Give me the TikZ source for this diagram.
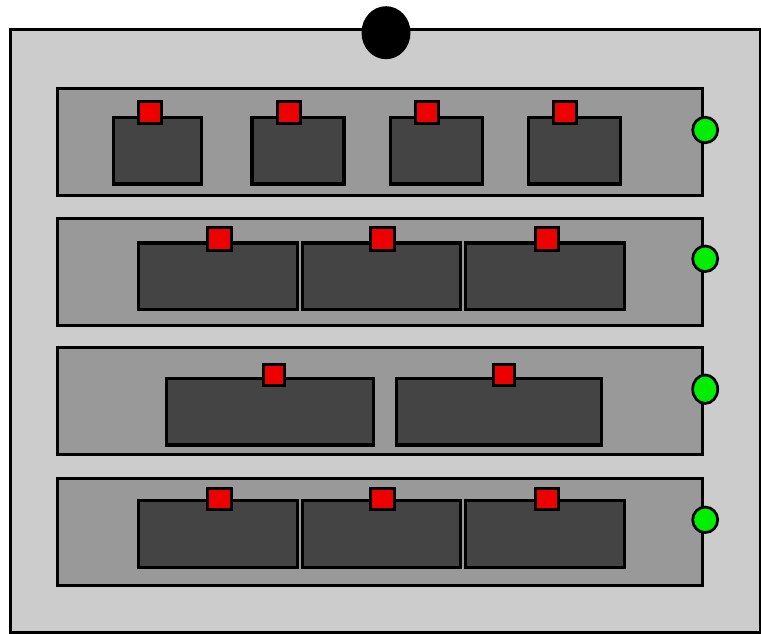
\documentclass[tikz,border=0pt]{standalone}
\usetikzlibrary{shapes.geometric}
\definecolor{casegray}{HTML}{CCCCCC}
\definecolor{shelfgray}{HTML}{999999}
\definecolor{boxgray}{HTML}{444444}
\definecolor{ledred}{HTML}{EE0000}
\definecolor{ledgreen}{HTML}{00EE00}
\tikzset{
  casebox/.style={draw=black,fill=casegray,line width=3pt,rectangle,inner sep=0pt},
  shelfbox/.style={draw=black,fill=shelfgray,line width=3.1pt,rectangle,inner sep=0pt,minimum width=645pt,minimum height=107pt},
  unitbox/.style={draw=black,fill=boxgray,line width=3.1pt,rectangle,inner sep=0pt,minimum height=66.5pt},
  redled/.style={draw=black,fill=ledred,line width=3pt,rectangle,inner sep=0pt,minimum width=23pt,minimum height=22.5pt},
  greenled/.style={draw=black,fill=ledgreen,line width=2.7pt,ellipse,inner sep=0pt,minimum width=25pt,minimum height=25.5pt},
  knob/.style={fill=black,ellipse,inner sep=0pt,minimum width=49pt,minimum height=53pt}
}
\begin{document}
\begin{tikzpicture}[x=1pt,y=-1pt]
\useasboundingbox (0,0) rectangle (761,634);
% case
\node[casebox,minimum width=750pt,minimum height=602pt] (case) at (385.5,331) {};
\node[knob] (knob) at (386,32.7) {};
% shelves
\node[shelfbox] (s1) at (380,142.4) {};
\node[shelfbox] (s2) at (380,271.6) {};
\node[shelfbox] (s3) at (380,400.6) {};
\node[shelfbox] (s4) at (380,532.4) {};
% green leds
\node[greenled] (g1) at (705.2,130) {};
\node[greenled] (g2) at (705.2,258.8) {};
\node[greenled,minimum height=28.5pt] (g3) at (705.2,389.2) {};
\node[greenled] (g4) at (705.2,519.8) {};
% shelf 1 units
\node[unitbox,minimum width=88pt] (u11) at (157.8,150.7) {};
\node[unitbox,minimum width=92pt] (u12) at (298,150.7) {};
\node[unitbox,minimum width=92pt] (u13) at (436.8,150.7) {};
\node[unitbox,minimum width=92pt] (u14) at (574.8,150.7) {};
\node[redled] (r11) at (150,112.7) {};
\node[redled] (r12) at (288.5,112.7) {};
\node[redled] (r13) at (426.7,112.7) {};
\node[redled] (r14) at (564.8,112.7) {};
% shelf 2 units
\node[unitbox,minimum width=158.5pt] (u21) at (217.8,276.2) {};
\node[unitbox,minimum width=158pt] (u22) at (381.4,276.2) {};
\node[unitbox,minimum width=158.5pt] (u23) at (545,276.2) {};
\node[redled,minimum width=23.5pt,minimum height=23pt] (r21) at (219.3,238.8) {};
\node[redled,minimum width=23.5pt,minimum height=23pt] (r22) at (382.5,238.8) {};
\node[redled,minimum width=23.5pt,minimum height=23pt] (r23) at (546.8,238.8) {};
% shelf 3 units
\node[unitbox,minimum width=206.6pt] (u31) at (270,411.7) {};
\node[unitbox,minimum width=205pt] (u32) at (499.2,411.7) {};
\node[redled,minimum width=21.3pt,minimum height=21.5pt] (r31) at (274.3,375.2) {};
\node[redled,minimum width=21.3pt,minimum height=21.5pt] (r32) at (504.3,375.2) {};
% shelf 4 units
\node[unitbox,minimum width=158.5pt] (u41) at (217.8,533.8) {};
\node[unitbox,minimum width=158pt] (u42) at (381.4,533.8) {};
\node[unitbox,minimum width=158.5pt] (u43) at (545,533.8) {};
\node[redled,minimum width=23.5pt,minimum height=21pt] (r41) at (219.3,498.5) {};
\node[redled,minimum width=23.5pt,minimum height=21pt] (r42) at (382.5,498.5) {};
\node[redled,minimum width=23.5pt,minimum height=21pt] (r43) at (546.8,498.5) {};
\end{tikzpicture}
\end{document}
